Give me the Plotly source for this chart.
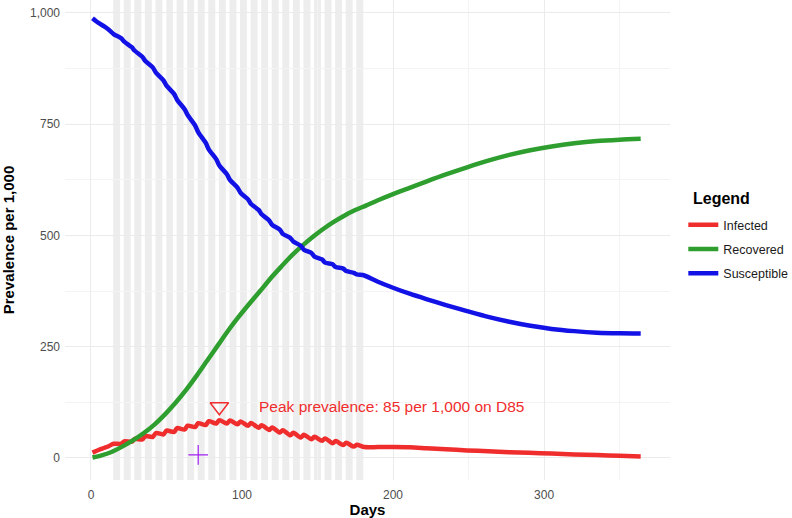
import plotly.graph_objects as go

# days sampled for the infected / susceptible curves
# (inside term time: top and bottom of each weekly wiggle)
sample_days = [1, 5, 9, 12,
               15, 20, 22, 27, 29, 34, 36, 41, 43, 48, 50, 55, 57, 62, 64, 69,
               71, 76, 78, 83, 85, 90, 92, 97, 99, 104, 106, 111, 113, 118, 120, 125,
               127, 132, 134, 139, 141, 146, 148, 153, 155, 160, 162, 167, 169, 174,
               176, 181,
               190, 200, 211, 222, 235, 249, 263, 277, 290, 305, 320, 335, 350, 364]

infected = [12, 18, 23, 27,
            32, 32, 37.5, 36.5, 43, 41.5, 49, 47.5, 56, 53, 61.5, 58.5, 67, 64, 72.5, 69.5,
            78, 74, 82.5, 77.5, 85, 77.5, 84, 75.5, 82, 72.5, 78.5, 68, 73.5, 63, 68.5, 57,
            62.5, 51, 56.5, 46, 52, 42, 47.5, 38.5, 44, 33, 38, 29, 34, 25.5,
            29.5, 24.5,
            24.5, 24.5, 24, 22, 19.5, 17, 15, 13, 11.5, 10, 8, 6.5, 5, 3.5]

susceptible = [988, 977.5, 969, 961.5,
               952.5, 943, 935.5, 923, 915, 901.5, 892, 877, 866, 848.5, 836.5, 818,
               805, 783.5, 770.5, 747, 732, 708, 693.5, 671, 657, 637.5, 625, 607.5,
               596, 581, 570.5, 557.5, 547.5, 533.5, 523.5, 513, 503.5, 494.5, 486.5, 476.5,
               468, 460.5, 452.5, 446, 439, 435, 429, 425.5, 420, 416, 412.5, 410,
               396, 382.5, 369, 357, 343.5, 330, 317, 306, 297.5, 290, 285, 281.5, 280, 279.5]

# recovered is smooth, weekly samples are enough
recovered_days = [1, 7, 14, 21, 28, 35, 42, 49, 56, 63, 70, 77, 84, 91, 98, 105, 112,
                  119, 126, 133, 140, 147, 154, 161, 168, 175, 182, 190, 200, 211, 222,
                  235, 249, 263, 277, 290, 305, 320, 335, 350, 364]
recovered = [1, 6, 14, 26, 40, 56, 75, 98, 124, 153, 185, 219, 253, 287, 318, 347, 375,
             404, 430, 455, 477, 497, 515, 531, 545, 557, 567, 579, 593, 607, 621,
             637, 653, 668, 681, 691, 700, 707, 712, 715, 717]

# first day of each shaded 5-day block
term_week_starts = [15, 22, 29, 36, 43, 50, 57, 64, 71, 78, 85, 92, 99, 106, 113, 120,
                    127, 134, 141, 148, 155, 162, 169, 176]

# purple cross
mark_day = [71]
mark_value = [7]

RED = "#F02D2D"
GREEN = "#2E9E2E"
BLUE = "#1212E6"
FONT = "Liberation Sans, Arial, sans-serif"

peak_value = max(infected)
peak_day = sample_days[infected.index(peak_value)]

fig = go.Figure()

series = [
    ("Infected", sample_days, infected, RED),
    ("Recovered", recovered_days, recovered, GREEN),
    ("Susceptible", sample_days, susceptible, BLUE),
]
for name, x, y, col in series:
    fig.add_trace(go.Scatter(
        x=x, y=y, mode="lines", name=name, legendgroup=name,
        line=dict(color=col, width=4.5, shape="spline", smoothing=0.8),
    ))

fig.add_trace(go.Scatter(
    x=[peak_day], y=[peak_value + 30], mode="markers", showlegend=False,
    marker=dict(symbol="triangle-down-open", size=16, color=RED, line=dict(width=1.4, color=RED)),
))
fig.add_trace(go.Scatter(
    x=mark_day, y=mark_value, mode="markers", showlegend=False,
    marker=dict(symbol="cross-thin-open", size=14, color="#A020F0", line=dict(width=1.2, color="#A020F0")),
))

fig.add_annotation(
    x=peak_day + 25, y=peak_value + 30, xanchor="left", yanchor="middle", showarrow=False,
    text=f"Peak prevalence: {peak_value:.0f} per 1,000 on D{peak_day}",
    font=dict(family=FONT, size=15.5, color=RED),
)
# legend heading sits a little higher above the keys than plotly puts it
fig.add_annotation(
    xref="paper", yref="paper", x=1.035, y=0.5875, xanchor="left", yanchor="middle",
    showarrow=False, text="<b>Legend</b>",
    font=dict(family=FONT, size=16, color="black"),
)

for d in term_week_starts:
    fig.add_shape(type="rect", xref="x", yref="paper", x0=d - 0.3, x1=d + 4.3, y0=0, y1=1,
                  fillcolor="#EBEBEB", opacity=0.9, line_width=0, layer="between")

fig.update_xaxes(
    range=[-17.2, 383.4], tick0=0, dtick=100, showgrid=True, gridcolor="#EBEBEB", gridwidth=1,
    minor=dict(dtick=50, showgrid=True, gridcolor="#F3F3F3", gridwidth=1),
    zeroline=False, showline=False, ticks="", automargin=False, ticklabelstandoff=6,
    tickfont=dict(family=FONT, size=12, color="#4D4D4D"),
    title=dict(text="<b>Days</b>", font=dict(family=FONT, size=15, color="black"), standoff=0),
)
fig.update_yaxes(
    range=[-49.5, 1029], tick0=0, dtick=250, tickformat=",d", showgrid=True, gridcolor="#EBEBEB",
    gridwidth=1, minor=dict(dtick=125, showgrid=True, gridcolor="#F3F3F3", gridwidth=1),
    zeroline=False, showline=False, ticks="", automargin=False,
    ticklabelstandoff=4, ticklabeloverflow="allow",
    tickfont=dict(family=FONT, size=12, color="#4D4D4D"),
    title=dict(text="<b>Prevalence per 1,000</b>", font=dict(family=FONT, size=15, color="black"), standoff=15),
)

fig.update_layout(
    width=792, height=518,
    margin=dict(l=65, r=122, t=0, b=38, autoexpand=False),
    paper_bgcolor="white", plot_bgcolor="white",
    font=dict(family=FONT),
    legend=dict(
        font=dict(family=FONT, size=12.5, color="#1A1A1A"),
        x=1.022, xanchor="left", y=0.481, yanchor="middle",
        tracegroupgap=5, bgcolor="rgba(0,0,0,0)",
    ),
)

# drop the default 8px body margin so the figure fills the window exactly
fig.write_html("out.html", config={"displayModeBar": False},
               post_script="document.body.style.margin = '0';")
